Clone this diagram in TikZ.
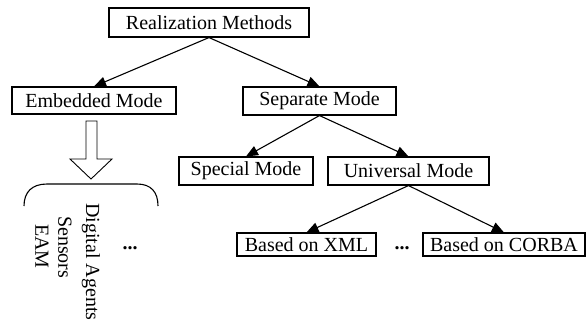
\documentclass[tikz,border=0pt]{standalone}
\usepackage{fontspec}
\setmainfont{Liberation Serif}
\usetikzlibrary{arrows.meta}
\begin{document}
\begin{tikzpicture}[x=1pt,y=-1pt,
  box/.style={draw,line width=1.1pt,inner sep=0pt,font=\fontsize{20}{24}\selectfont,anchor=center},
  arr/.style={line width=1.1pt,-{Triangle[length=12pt,width=10pt]}},
  lbl/.style={inner sep=0pt,font=\fontsize{20}{24}\selectfont}]
\useasboundingbox (0,0) rectangle (588,322);
\node[box,minimum width=200pt,minimum height=29pt] (rm) at (209,22.5) {Realization Methods};
\node[box,minimum width=164pt,minimum height=27pt] (em) at (94,100.5) {Embedded Mode};
\node[box,minimum width=153pt,minimum height=28pt] (sm) at (319.5,101) {Separate Mode};
\node[box,minimum width=134pt,minimum height=28pt] (sp) at (246,171) {Special Mode};
\node[box,minimum width=161pt,minimum height=28pt] (um) at (408.5,171) {Universal Mode};
\node[box,minimum width=139pt,minimum height=23pt] (xml) at (306.5,244.5) {Based on XML};
\node[box,minimum width=162pt,minimum height=23pt] (corba) at (504,244.5) {Based on CORBA};
\node[lbl,anchor=base,font=\fontsize{20}{24}\selectfont\bfseries] (d2) at (402,249.5) {...};

\draw[arr] (rm.south) -- (em.north);
\draw[arr] (rm.south) -- (sm.north);
\draw[arr] (sm.south) -- (sp.north);
\draw[arr] (sm.south) -- (um.north);
\draw[arr] (um.south) -- (xml.north);
\draw[arr] (um.south) -- (corba.north);

% hollow block arrow
\draw[line width=0.9pt] (86,121) -- (97,121) -- (97,159) -- (112,159) -- (91,179) -- (70,159) -- (86,159) -- cycle;

% brace
\draw[line width=1.1pt] (24,206) .. controls (24,192) and (32,184) .. (47,184) -- (137,184) .. controls (151,184) and (158,192) .. (158,206);

\node[lbl,rotate=-90,anchor=west] (da) at (91,203) {Digital Agents};
\node[lbl,rotate=-90,anchor=west] (se) at (65,216) {Sensors};
\node[lbl,rotate=-90,anchor=west] (eam) at (42,224) {EAM};
\node[lbl,anchor=base,font=\fontsize{20}{24}\selectfont\bfseries] (d1) at (130,249.5) {...};
\end{tikzpicture}
\end{document}
